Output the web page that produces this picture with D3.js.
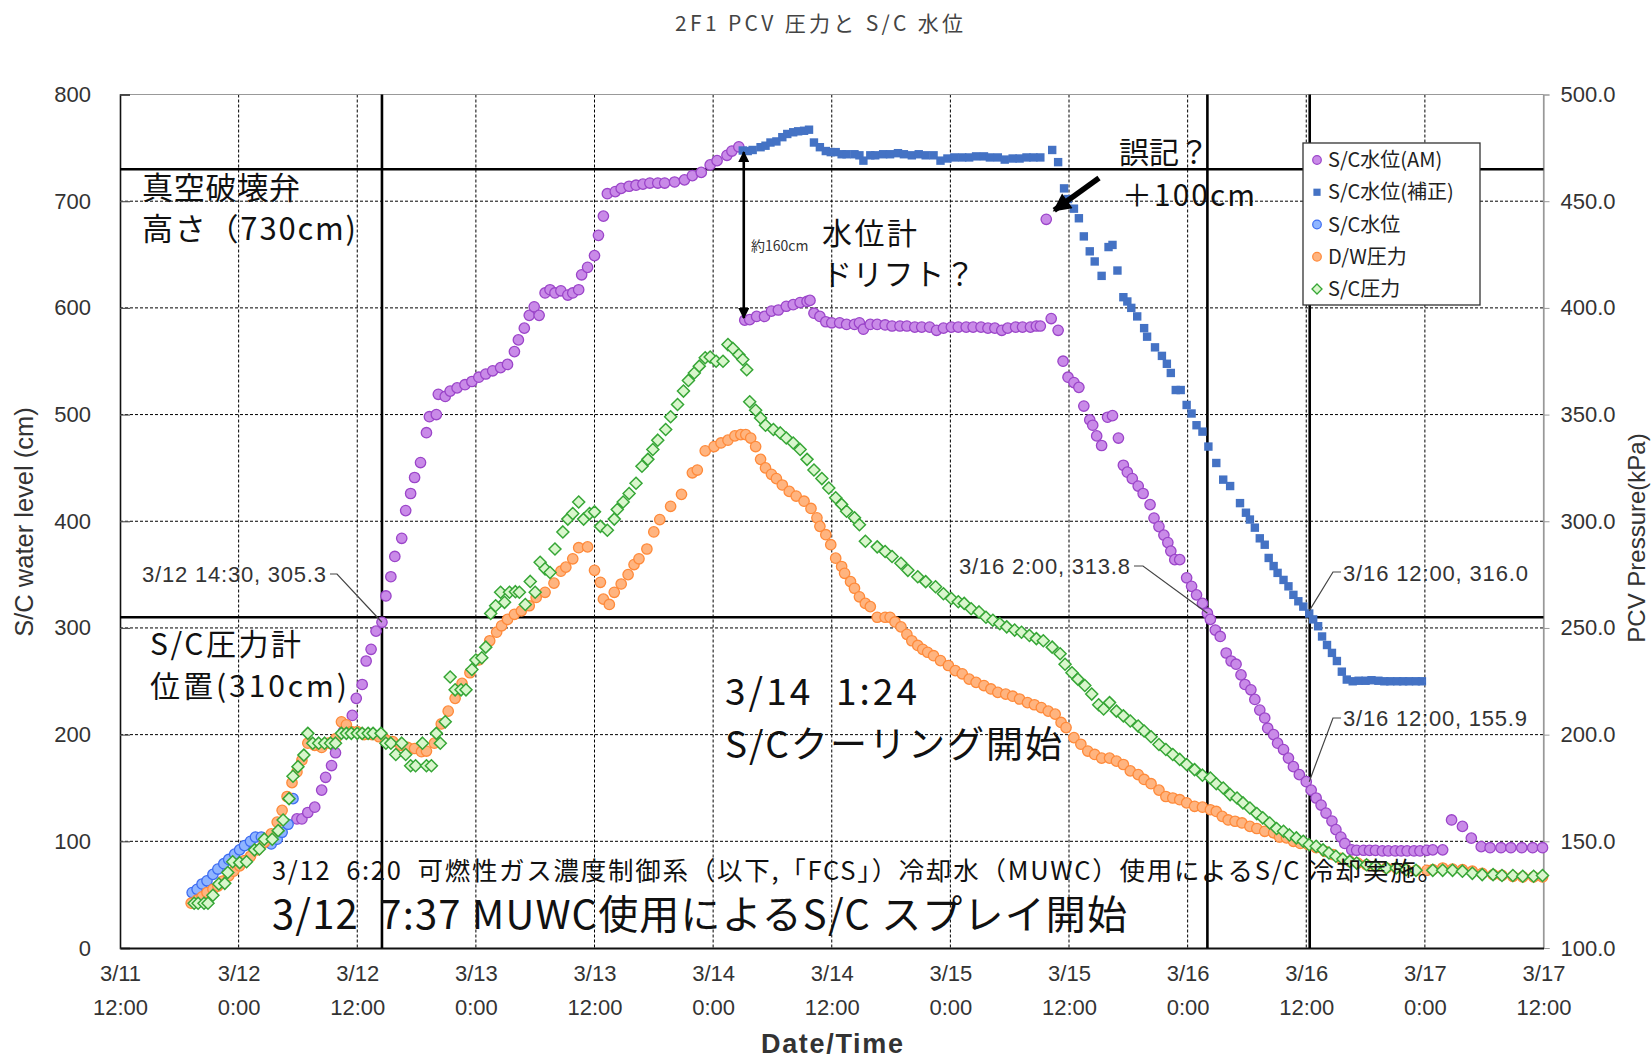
<!DOCTYPE html>
<html><head><meta charset="utf-8">
<script src="https://cdn.jsdelivr.net/npm/d3@7"></script>
<style>
html,body{margin:0;padding:0;background:#fff;}
svg{display:block;}
text{white-space:pre;}
</style></head><body>
<svg id="chart" width="1652" height="1059"></svg>
<script>
// ---------- DATA ----------
// time values are hours counted from 2011-03-11 12:00
const startTime = new Date(2011, 2, 11, 12, 0);
const xTickHours = [0, 12, 24, 36, 48, 60, 72, 84, 96, 108, 120, 132, 144];
const xTickDates = ["3/11","3/12","3/12","3/13","3/13","3/14","3/14","3/15","3/15","3/16","3/16","3/17","3/17"];
const xTickTimes = ["12:00","0:00","12:00","0:00","12:00","0:00","12:00","0:00","12:00","0:00","12:00","0:00","12:00"];
const leftTicks = [0, 100, 200, 300, 400, 500, 600, 700, 800];
const rightTicks = [100, 150, 200, 250, 300, 350, 400, 450, 500];

// S/C水位(AM)  [hour, cm]
const scLevelAM = [[17.9,121],[18.4,121],[19.0,127],[19.7,132],[20.4,148],[20.8,160],[21.4,171],[21.8,183],[22.6,203],[23.5,218],[23.9,234],[24.5,247],[24.9,269],[25.4,280],[25.9,297],[26.5,305.3],[26.9,330],[27.4,348],[27.8,367],[28.5,384],[28.9,410],[29.4,426],[29.8,441],[30.4,455],[31.0,483],[31.3,498],[32.0,500],[32.2,519],[32.9,517],[33.4,522],[34.1,525],[34.9,528],[35.6,531],[36.3,535],[37.0,538],[37.7,541],[38.5,544],[39.2,547],[39.9,559],[40.3,570],[40.9,581],[41.4,593],[41.9,601],[42.4,593],[43.0,614],[43.5,617],[44.0,614],[44.6,616],[45.3,612],[45.8,614],[46.4,617],[46.7,631],[47.3,638],[48.0,649],[48.4,668],[48.9,686],[49.3,707],[50.1,709],[50.7,712],[51.5,714],[52.2,715],[52.9,716],[53.6,717],[54.4,717],[55.1,717],[56.1,718],[57.1,720],[57.9,724],[58.8,727],[59.7,734],[60.4,738],[61.4,743],[61.9,747],[62.6,751],
[63.2,588.5],[63.7,589],[64.4,592],[65.2,592],[65.9,597],[66.6,598],[67.4,601.5],[68.1,603],[68.8,605],[69.5,606],[69.8,607],[70.2,595],[70.8,592],[71.4,587],[72.0,586],[72.8,586],[73.5,584.5],[74.3,584.5],[74.8,586],[75.2,580],[75.9,584.5],[76.6,584.5],[77.4,584],[78.1,583],[78.9,583],[79.6,583],[80.4,582],[81.1,582],[81.9,582],[82.6,579],[83.3,581],[84.1,582],[84.8,582],[85.6,582],[86.3,582],[87.1,582],[87.8,581],[88.5,581],[89.2,579],[89.8,581],[90.6,582],[91.3,582],[92.1,582],[92.7,583],[93.1,583],[93.7,683],[94.2,590],[94.9,579],[95.4,550],[95.9,535],[96.5,530],[97.0,525.5],[97.5,508],[98.1,495],[98.4,490],[98.8,480],[99.3,471],[99.9,497.5],[100.4,499],[101.0,478],[101.5,452.5],[101.9,446],[102.4,440],[103.0,433],[103.5,426],[104.2,415.6],[104.6,403],[105.1,395],[105.6,387],[106.0,380],[106.3,372],[106.7,364],[107.2,364],[107.9,347],[108.4,339],[108.9,331],[109.5,323],[110.0,313.8],[110.3,308],[110.8,298],[111.3,292],[111.9,276.5],[112.4,269],[112.9,266],[113.4,256],[113.8,247],[114.4,242],[114.8,233],[115.3,223],[115.8,215.6],[116.1,206],[116.7,200],[117.1,192],[117.7,186],[118.2,178],[118.7,170],[119.3,162.5],[120.0,155.9],[120.5,148],[121.0,140.6],[121.5,134],[122.0,126.5],[122.6,119],[123.0,111],[123.5,104],[123.9,98],[124.6,92],[125.1,91.6],[125.8,91.6],[126.4,91.5],[127.0,91.5],[127.7,91],[128.3,91],[129.0,91],[129.6,91],[130.2,91],[130.9,91],[131.5,91],[132.2,91.5],[132.8,92],[133.8,92],[134.7,120],[135.8,114],[136.7,103],[137.7,95],[138.6,94],[139.7,94],[140.7,94],[141.8,94],[142.9,94],[143.9,94]];

// S/C水位(補正)  [hour, cm]
const scLevelCorr = [[63.0,747.5],[63.5,747],[64.0,748],[64.8,750.6],[65.3,752],[65.8,755],[66.4,756],[67.0,760],[67.5,763],[68.1,764.6],[68.6,765.5],[69.2,766],[69.7,767],[70.2,755],[70.8,750.6],[71.4,747],[71.9,746],[72.4,746],[73.0,744],[73.5,744],[74.3,744],[74.8,743],[75.2,738],[75.9,743],[76.4,743],[77.2,744],[77.9,744],[78.7,745],[79.3,744],[80.1,743],[80.8,744],[81.5,743],[82.3,743],[83.0,738],[83.7,740],[84.4,741],[85.2,741],[85.9,741],[86.6,742],[87.4,742],[88.0,741],[88.8,741],[89.5,739],[90.3,740],[91.0,740],[91.7,741],[92.4,741],[93.1,741],[94.3,748],[94.9,736.6],[95.5,712],[95.9,702],[96.5,693],[97.0,684],[97.5,667],[98.1,653],[98.6,643.5],[99.3,630],[100.0,657],[100.4,659],[100.9,635],[101.5,610],[101.9,606],[102.3,600],[102.9,592],[103.6,581],[103.9,573],[104.7,563],[105.4,555],[105.9,547.6],[106.3,539],[106.8,523],[107.3,523],[107.9,509],[108.4,501],[108.9,490],[109.5,484],[110.1,470],[110.9,454.6],[111.6,439],[112.3,433],[113.3,417],[113.9,408],[114.3,401.6],[114.8,394],[115.3,384],[115.8,378],[116.2,365.6],[116.7,358],[117.1,351.6],[117.7,345],[118.2,339],[118.7,331],[119.2,325],[119.7,320],[120.3,313.5],[120.7,308],[121.2,301.6],[121.6,292],[122.1,284],[122.6,276.6],[123.1,269],[123.6,259],[124.1,251.6],[124.7,250],[125.3,250.5],[126.0,250.5],[126.6,251],[127.3,250.5],[127.9,250],[128.5,250],[129.2,250],[129.8,250],[130.4,250],[131.1,250],[131.7,250]];

// S/C水位  [hour, cm]
const scLevel = [[7.3,52],[7.8,55],[8.3,60],[8.8,63],[9.4,69],[9.9,74],[10.5,79],[11.0,83],[11.6,88],[12.1,92],[12.6,96],[13.2,100],[13.7,104],[14.3,104],[14.8,101],[15.3,97.5],[15.9,102],[16.4,108.5],[17.0,116],[17.5,140]];

// D/W圧力  [hour, kPa]
const dwPressure = [[7.2,121],[7.8,122.5],[8.3,124],[8.8,126],[9.4,127.5],[9.9,129],[10.4,131.4],[11.0,133.8],[11.5,136],[12.1,138.5],[12.6,141],[13.2,143],[13.9,146],[14.6,149.5],[15.3,153.5],[15.9,159],[16.4,164.5],[16.9,171],[17.4,177.5],[17.9,182.5],[18.4,188],[19.0,196],[19.7,195],[20.4,194],[21.1,196],[21.8,198],[22.4,206],[22.9,204.6],[23.4,201.4],[24.0,201.4],[24.7,200],[25.5,200],[26.2,199],[26.9,197.5],[27.6,196.7],[28.4,195],[29.1,194],[29.8,193.5],[30.5,192],[31.0,192.3],[31.8,196],[32.5,205],[33.2,211],[33.9,217],[34.6,224],[35.4,229],[36.3,235],[37.4,244],[38.1,248],[38.6,251],[39.2,254],[39.9,256.4],[40.6,258],[41.4,260.4],[42.1,264.3],[43.0,266.7],[43.9,271],[44.6,276.6],[45.1,278.5],[45.8,282.4],[46.4,287.6],[47.3,288],[48.0,277],[48.6,271.4],[48.9,263.5],[49.5,261],[50.0,266.7],[50.7,270.6],[51.4,275],[52.0,279.7],[52.5,282.4],[53.3,287],[54.0,295],[54.6,300.8],[55.7,307],[56.8,312.6],[57.9,322.7],[58.4,324],[59.2,333],[60.1,335],[60.8,336.7],[61.5,338],[62.2,340],[62.8,340.6],[63.3,340.6],[63.8,339],[64.3,335],[64.8,329],[65.3,325],[65.9,322],[66.4,320],[67.0,317],[67.7,314],[68.4,311.8],[69.2,309.4],[69.9,306],[70.5,301.6],[70.8,297.6],[71.4,293.7],[71.9,289],[72.4,282.7],[73.0,278.8],[73.3,275.6],[73.9,271.7],[74.3,268.6],[74.8,264.6],[75.4,261.5],[75.9,260],[76.6,255],[77.4,255],[77.9,255],[78.4,252.8],[79.0,250.5],[79.6,247],[80.1,244],[80.7,241.8],[81.2,240],[81.7,238.6],[82.3,237],[83.0,234.7],[83.8,232.4],[84.5,230],[85.2,228.5],[85.9,226],[86.6,224.5],[87.4,223],[88.1,221.4],[88.8,219.8],[89.6,219],[90.3,218],[91.0,216.7],[91.8,215],[92.5,214],[93.2,212.7],[93.9,211],[94.6,209.6],[95.2,205.7],[95.7,203.3],[96.5,198.6],[97.2,195.5],[97.9,192.3],[98.6,190.7],[99.3,189],[100.1,189],[100.8,187.6],[101.5,186],[102.2,183],[103.0,181.3],[103.6,179],[104.3,177],[105.1,174],[105.8,171],[106.5,170.3],[107.2,169.5],[107.9,168],[108.7,166.4],[109.5,166],[110.3,164.8],[110.9,164],[111.5,161.7],[112.1,160],[112.8,159.4],[113.5,158.6],[114.3,157],[115.0,156],[115.8,154.7],[116.7,154],[117.3,152],[118.0,151.6],[118.7,150],[119.4,149],[120.2,148.4],[121.0,147],[121.9,145.3],[122.7,143.8],[123.5,142],[124.4,140.6],[125.2,139.8],[126.1,139],[127.0,138.3],[128.1,137.5],[129.1,137.5],[130.1,136.7],[131.1,136.4],[132.2,136.4],[132.8,136.7],[133.8,137.5],[134.8,137],[135.8,136.7],[136.8,136],[137.8,135],[138.9,134.4],[139.8,134],[140.9,133.6],[141.9,133.3],[143.0,133.3],[143.9,133.3]];

// S/C圧力  [hour, kPa]
const scPressure = [[7.5,121],[7.9,121],[8.5,121],[8.9,121],[9.4,124.7],[10.0,130],[10.6,130.3],[10.9,135.4],[11.4,140.4],[12.1,140],[12.8,140.4],[13.6,146],[14.1,146.4],[14.6,151],[15.4,151],[16.0,155],[16.5,160],[17.1,170],[17.5,180.5],[18.0,185],[18.6,190.4],[19.0,200.6],[19.5,196],[20.1,196],[20.7,196],[21.3,196],[21.8,196],[22.4,200.6],[22.9,200.6],[23.4,200.6],[24.0,200.6],[24.5,200.6],[25.1,200.6],[25.6,200.6],[26.4,200.6],[26.9,196],[27.4,196],[27.9,190.7],[28.5,196],[28.9,190.7],[29.4,185.4],[29.9,185.4],[30.6,196],[31.0,185.4],[31.5,185.4],[32.0,200.6],[32.4,196],[32.9,206],[33.4,227],[33.9,221],[34.5,221],[35.0,221],[35.6,230.5],[36.0,235],[36.6,236],[37.0,241],[37.5,256.8],[38.0,260.4],[38.5,266.7],[38.9,262],[39.4,266.7],[40.0,267],[40.4,266.7],[41.0,261],[41.5,271.8],[42.0,266.7],[42.5,280.8],[43.0,277.7],[43.5,276],[44.0,287],[44.8,295],[45.3,301],[45.8,303.6],[46.4,309],[46.9,301],[47.5,303.6],[48.0,304.4],[48.6,297.6],[49.3,295.8],[50.0,301],[50.3,305.5],[50.9,309],[51.5,313],[52.2,317.8],[52.8,325.8],[53.4,329],[53.9,333.6],[54.4,338],[55.2,343],[55.7,349],[56.4,354.7],[57.0,361],[57.5,366],[58.1,369.5],[58.6,372.7],[59.2,376.6],[59.7,377],[60.3,375],[61.0,375],[61.5,382.8],[62.0,381],[62.6,378],[63.0,375.8],[63.4,371],[63.7,356],[64.3,352],[64.8,348.4],[65.3,345],[66.1,343],[66.8,341.4],[67.4,339],[68.1,336.7],[68.8,333.6],[69.5,329],[70.2,324],[71.0,320],[71.7,315.6],[72.4,311],[73.0,307.9],[73.5,304.7],[74.3,301.6],[74.8,298.4],[75.4,290.6],[76.6,288],[77.4,285.8],[78.1,283.5],[79.0,280.3],[79.7,277],[80.7,274],[81.5,271.7],[82.5,269.3],[83.3,266],[84.1,263.8],[84.8,262.3],[85.4,261.5],[86.1,259],[86.9,257.5],[87.6,255],[88.3,253.6],[89.0,252],[89.7,250.5],[90.5,249],[91.2,248],[92.0,246.5],[92.7,245],[93.4,244],[94.3,241],[95.1,237.9],[95.6,233],[96.3,229],[96.9,226],[97.6,223],[98.3,219],[99.0,214],[99.5,212],[100.1,215],[100.8,211],[101.5,208.8],[102.2,206.4],[103.0,204],[103.6,201.7],[104.3,199],[105.1,195.4],[105.8,193],[106.5,190.7],[107.2,188.4],[107.9,186],[108.7,183.6],[109.5,181],[110.3,179.7],[110.9,177],[111.6,175],[112.3,171.9],[113.0,170.3],[113.6,168],[114.3,165.6],[115.0,163],[115.6,161],[116.3,158.6],[117.0,156],[117.7,154.7],[118.3,153],[119.0,151.6],[119.7,150],[120.3,148.4],[121.0,147.7],[121.7,146],[122.3,144.5],[123.0,143],[123.7,141.7],[124.4,140.6],[125.1,139.8],[126.1,139],[127.0,138.3],[128.1,137.5],[129.1,137.5],[130.1,136.7],[131.1,136.4],[132.8,136.4],[133.8,136.4],[134.8,136.4],[135.8,136],[136.8,135],[137.8,134.4],[138.9,134.4],[139.8,134],[140.9,134],[141.9,133.6],[143.0,133.6],[143.9,134]];

// reference lines
const refLevels = [730, 310];          // cm
const refHours = [26.5, 110, 120.35];  // 3/12 14:30, 3/16 2:00, 3/16 12:00

const legendNames = ["S/C水位(AM)", "S/C水位(補正)", "S/C水位", "D/W圧力", "S/C圧力"];

// ---------- LAYOUT ----------
const svg = d3.select("#chart");
const P = {left: 120, right: 1543.5, top: 94.5, bottom: 948};
const toDate = h => new Date(startTime.getTime() + h * 3600e3);
const x = d3.scaleTime().domain([toDate(0), toDate(144)]).range([P.left, P.right]);
const yL = d3.scaleLinear().domain([0, 800]).range([P.bottom, P.top]);
const yR = d3.scaleLinear().domain([100, 500]).range([P.bottom, P.top]);
const hx = h => x(toDate(h));

const numFont = "'Liberation Sans', Arial, sans-serif";
const jpFont = "'Noto Sans CJK JP', 'Noto Sans', sans-serif";

// title
svg.append("text").attr("x", 675).attr("y", 31)
  .attr("textLength", 288).attr("lengthAdjust", "spacing")
  .style("font-family", jpFont).style("font-size", "21px").style("fill", "#444")
  .text("2F1 PCV 圧力と S/C 水位");

// gridlines
const grid = svg.append("g");
grid.selectAll("line.h").data(leftTicks.slice(1, -1)).join("line")
  .attr("x1", P.left).attr("x2", P.right).attr("y1", d => yL(d)).attr("y2", d => yL(d))
  .attr("stroke", "#000").attr("stroke-width", 1).attr("stroke-dasharray", "3,2");
grid.selectAll("line.v").data(xTickHours.slice(1, -1)).join("line")
  .attr("y1", P.top).attr("y2", P.bottom).attr("x1", d => hx(d)).attr("x2", d => hx(d))
  .attr("stroke", "#000").attr("stroke-width", 1).attr("stroke-dasharray", "3,2");

// frame
svg.append("line").attr("x1", P.left).attr("x2", P.right).attr("y1", P.top).attr("y2", P.top).attr("stroke", "#999").attr("stroke-width", 1.2);
svg.append("line").attr("x1", P.right).attr("x2", P.right).attr("y1", P.top).attr("y2", P.bottom).attr("stroke", "#999").attr("stroke-width", 1.2);

// axes
const axL = svg.append("g").attr("transform", `translate(${P.left},0)`)
  .call(d3.axisLeft(yL).tickValues(leftTicks).tickSize(-10).tickPadding(29).tickFormat(d3.format("d")));
const axR = svg.append("g").attr("transform", `translate(${P.right},0)`)
  .call(d3.axisRight(yR).tickValues(rightTicks).tickSize(6).tickPadding(11).tickFormat(d3.format(".1f")));
const axB = svg.append("g").attr("transform", `translate(0,${P.bottom})`)
  .call(d3.axisBottom(x).tickValues(xTickHours.map(toDate)).tickSize(0).tickFormat(""));
[axL, axR, axB].forEach(a => {
  a.selectAll("text").style("font-family", numFont).style("font-size", "22px").style("fill", "#333");
});
axL.select(".domain").attr("stroke", "#111").attr("stroke-width", 1.6);
axL.selectAll(".tick line").attr("stroke", "#555").attr("stroke-width", 1.2);
axR.select(".domain").attr("stroke", "#999").attr("stroke-width", 1.2);
axR.selectAll(".tick line").attr("stroke", "#999");
axB.select(".domain").attr("stroke", "#111").attr("stroke-width", 2);
axB.selectAll(".tick").each(function(d, i) {
  const t = d3.select(this);
  t.append("text").attr("y", 33).attr("text-anchor", "middle").attr("fill", "#333")
    .style("font-family", numFont).style("font-size", "22px").text(xTickDates[i]);
  t.append("text").attr("y", 67).attr("text-anchor", "middle").attr("fill", "#333")
    .style("font-family", numFont).style("font-size", "22px").text(xTickTimes[i]);
});

// axis titles
svg.append("text").attr("transform", `translate(33,522) rotate(-90)`).attr("text-anchor", "middle")
  .style("font-family", numFont).style("font-size", "25.5px").style("fill", "#333").text("S/C water level (cm)");
svg.append("text").attr("transform", `translate(1645,538) rotate(-90)`).attr("text-anchor", "middle")
  .style("font-family", numFont).style("font-size", "24px").style("fill", "#333").text("PCV Pressure(kPa)");
svg.append("text").attr("x", 761).attr("y", 1053)
  .attr("textLength", 142).attr("lengthAdjust", "spacing")
  .style("font-family", numFont).style("font-size", "27px").style("font-weight", "bold").style("fill", "#333").text("Date/Time");

// reference lines
svg.selectAll("line.refH").data(refLevels).join("line")
  .attr("x1", P.left).attr("x2", P.right).attr("y1", d => yL(d)).attr("y2", d => yL(d))
  .attr("stroke", "#000").attr("stroke-width", 2.6);
svg.selectAll("line.refV").data(refHours).join("line")
  .attr("y1", P.top).attr("y2", P.bottom).attr("x1", d => hx(d)).attr("x2", d => hx(d))
  .attr("stroke", "#000").attr("stroke-width", 2.6);

// ---------- SERIES ----------
const styles = {
  am:   {fill: "#c98ae8", stroke: "#9b45c9"},
  corr: {fill: "#4472c4"},
  lvl:  {fill: "#8fb5ff", stroke: "#3d6cf2"},
  dw:   {fill: "#ffb47f", stroke: "#ff8a3a"},
  scp:  {fill: "#d9f6cc", stroke: "#36a636"}
};
const diamond = "M0,-6L6,0L0,6L-6,0Z";
const gS = svg.append("g");
gS.selectAll("circle.am").data(scLevelAM).join("circle")
  .attr("cx", d => hx(d[0])).attr("cy", d => yL(d[1])).attr("r", 5.2)
  .attr("fill", styles.am.fill).attr("stroke", styles.am.stroke).attr("stroke-width", 1.3);
gS.selectAll("rect.corr").data(scLevelCorr).join("rect")
  .attr("x", d => hx(d[0]) - 4.2).attr("y", d => yL(d[1]) - 4.2).attr("width", 8.4).attr("height", 8.4)
  .attr("fill", styles.corr.fill);
gS.selectAll("circle.lvl").data(scLevel).join("circle")
  .attr("cx", d => hx(d[0])).attr("cy", d => yL(d[1])).attr("r", 5.2)
  .attr("fill", styles.lvl.fill).attr("stroke", styles.lvl.stroke).attr("stroke-width", 1.3);
gS.selectAll("circle.dw").data(dwPressure).join("circle")
  .attr("cx", d => hx(d[0])).attr("cy", d => yR(d[1])).attr("r", 5.2)
  .attr("fill", styles.dw.fill).attr("stroke", styles.dw.stroke).attr("stroke-width", 1.3);
gS.selectAll("path.scp").data(scPressure).join("path")
  .attr("d", diamond).attr("transform", d => `translate(${hx(d[0])},${yR(d[1])})`)
  .attr("fill", styles.scp.fill).attr("stroke", styles.scp.stroke).attr("stroke-width", 1.5);

// ---------- ANNOTATIONS ----------
const defs = svg.append("defs");
defs.append("marker").attr("id", "ah").attr("viewBox", "0 0 10 10").attr("refX", 9).attr("refY", 5)
  .attr("markerWidth", 11).attr("markerHeight", 11).attr("markerUnits", "userSpaceOnUse")
  .attr("orient", "auto-start-reverse")
  .append("path").attr("d", "M0,0L10,5L0,10Z").attr("fill", "#000");
defs.append("marker").attr("id", "bigah").attr("viewBox", "0 0 10 10").attr("refX", 9).attr("refY", 5)
  .attr("markerWidth", 22).attr("markerHeight", 18).attr("markerUnits", "userSpaceOnUse")
  .attr("orient", "auto")
  .append("path").attr("d", "M0,0L10,5L0,10Z").attr("fill", "#000");

// multi-line annotation: one <text> with a <tspan> per line
const noteText = (lines) => {
  const t = svg.append("text").style("font-family", jpFont).style("fill", "#111");
  lines.forEach(l => {
    const s = t.append("tspan").attr("x", l.x).attr("y", l.y).style("font-size", l.size + "px").text(l.s);
    if (l.len) s.attr("textLength", l.len).attr("lengthAdjust", "spacing");
  });
  return t;
};
noteText([{x: 142, y: 199, s: "真空破壊弁", size: 31, len: 158},
          {x: 142, y: 240, s: "高さ（730cm)", size: 31, len: 214}]);
noteText([{x: 150, y: 655, s: "S/C圧力計", size: 30, len: 151},
          {x: 150, y: 697, s: "位置(310cm)", size: 30, len: 197}]);
noteText([{x: 822, y: 244, s: "水位計", size: 30, len: 95},
          {x: 822, y: 285, s: "ドリフト？", size: 30, len: 153}]);
noteText([{x: 1119, y: 163, s: "誤記？", size: 30, len: 90},
          {x: 1122, y: 206, s: "＋100cm", size: 30, len: 133}]);
noteText([{x: 725, y: 705, s: "3/14  1:24", size: 37, len: 192},
          {x: 725, y: 758, s: "S/Cクーリング開始", size: 37, len: 337}]);
noteText([{x: 272, y: 880, s: "3/12  6:20  可燃性ガス濃度制御系（以下,「FCS」）冷却水（MUWC）使用によるS/C 冷却実施。", size: 25.5, len: 1171}]);
noteText([{x: 272, y: 929, s: "3/12  7:37 MUWC使用によるS/C スプレイ開始", size: 40, len: 855}]);
svg.append("text").attr("x", 751).attr("y", 251)
  .style("font-family", jpFont).style("font-size", "14px").style("fill", "#333").text("約160cm");

// double arrow (drift)
svg.append("line").attr("x1", hx(63.1)).attr("x2", hx(63.1)).attr("y1", yL(746)).attr("y2", yL(590.5))
  .attr("stroke", "#000").attr("stroke-width", 2.6)
  .attr("marker-start", "url(#ah)").attr("marker-end", "url(#ah)");
// thick arrow (誤記)
svg.append("line").attr("x1", 1099).attr("y1", 178).attr("x2", hx(93.9) + 6).attr("y2", yL(683) - 9)
  .attr("stroke", "#000").attr("stroke-width", 5.5).attr("marker-end", "url(#bigah)");

// data labels with leaders
const dataLabels = [
  {text: "3/12 14:30, 305.3", tx: 142, ty: 574, len: 184, path: [[330, 574], [337, 574]], h: 26.5, v: 305.3},
  {text: "3/16 2:00, 313.8", tx: 959, ty: 566, len: 171, path: [[1134, 566], [1143, 566]], h: 110, v: 313.8},
  {text: "3/16 12:00, 316.0", tx: 1343, ty: 573, len: 185, path: [[1341, 572], [1333, 572]], h: 120.3, v: 316.0},
  {text: "3/16 12:00, 155.9", tx: 1343, ty: 718, len: 184, path: [[1341, 718], [1333, 718]], h: 120.3, v: 155.9}
];
dataLabels.forEach(d => {
  svg.append("text").attr("x", d.tx).attr("y", d.ty).attr("dy", "0.35em")
    .attr("textLength", d.len).attr("lengthAdjust", "spacing")
    .style("font-family", numFont).style("font-size", "22px").style("fill", "#333").text(d.text);
  const pts = d.path.concat([[hx(d.h), yL(d.v)]]);
  svg.append("path").attr("d", d3.line()(pts)).attr("fill", "none").attr("stroke", "#444").attr("stroke-width", 1.2);
});

// ---------- LEGEND ----------
const lg = svg.append("g");
lg.append("rect").attr("x", 1303).attr("y", 143).attr("width", 177).attr("height", 162)
  .attr("fill", "#fff").attr("stroke", "#333").attr("stroke-width", 1.3);
const legendY = d3.scalePoint().domain(legendNames).range([160, 289]);
const lmx = 1317;
legendNames.forEach((n, i) => {
  const yy = legendY(n);
  if (i === 0) lg.append("circle").attr("cx", lmx).attr("cy", yy).attr("r", 4.3).attr("fill", styles.am.fill).attr("stroke", styles.am.stroke).attr("stroke-width", 1.2);
  if (i === 1) lg.append("rect").attr("x", lmx - 3.6).attr("y", yy - 3.6).attr("width", 7.2).attr("height", 7.2).attr("fill", styles.corr.fill);
  if (i === 2) lg.append("circle").attr("cx", lmx).attr("cy", yy).attr("r", 4.3).attr("fill", styles.lvl.fill).attr("stroke", styles.lvl.stroke).attr("stroke-width", 1.2);
  if (i === 3) lg.append("circle").attr("cx", lmx).attr("cy", yy).attr("r", 4.3).attr("fill", styles.dw.fill).attr("stroke", styles.dw.stroke).attr("stroke-width", 1.2);
  if (i === 4) lg.append("path").attr("d", "M0,-5L5,0L0,5L-5,0Z").attr("transform", `translate(${lmx},${yy})`).attr("fill", styles.scp.fill).attr("stroke", styles.scp.stroke).attr("stroke-width", 1.3);
  lg.append("text").attr("x", 1328).attr("y", yy).attr("dy", "0.36em")
    .style("font-family", jpFont).style("font-size", "20px").style("fill", "#222").text(n);
});
</script>
</body></html>
